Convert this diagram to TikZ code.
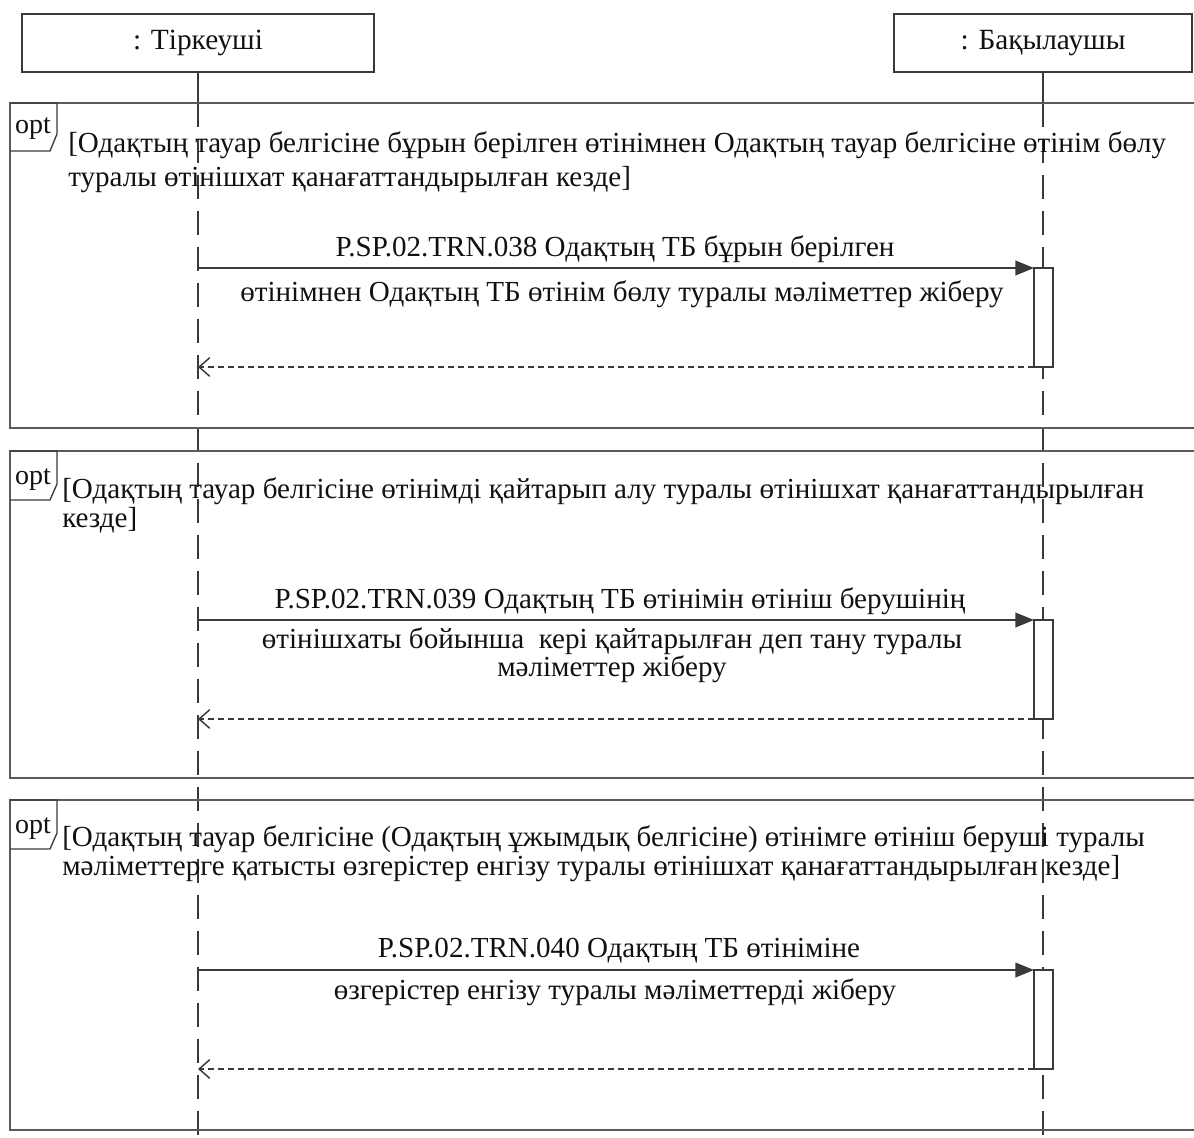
\documentclass[tikz,border=0pt]{standalone}
\usepackage{fontspec}
\setmainfont{Liberation Serif}
\usepackage{tikz}
\usetikzlibrary{arrows.meta, positioning}
\definecolor{cLine}{HTML}{3A3A3A}
\definecolor{cFrame}{HTML}{5A5A5A}
\definecolor{cText}{HTML}{111111}

\begin{document}
\begin{tikzpicture}[
  x=0.75pt, y=-0.75pt,
  head/.style={draw=cLine, line width=1.4pt, minimum height=43.5pt, inner sep=0pt, text=cText, font=\fontsize{22}{24}\selectfont},
  life/.style={cLine, line width=1.2pt},
  lifedash/.style={life, dash pattern=on 18pt off 9pt},
  frame/.style={draw=cFrame, line width=1.6pt},
  tab/.style={draw=cLine, line width=1pt},
  optlbl/.style={inner sep=0pt, text=cText, font=\fontsize{21}{23}\selectfont},
  guard/.style={anchor=north west, align=left, inner sep=0pt, text=cText, font=\fontsize{21.8}{21.8}\selectfont},
  lbl/.style={anchor=base, align=center, inner sep=0pt, text=cText, font=\fontsize{21.8}{21}\selectfont},
  act/.style={draw=cLine, fill=white, line width=1.2pt, minimum width=14.25pt, minimum height=74.25pt, inner sep=0pt, outer sep=0pt, anchor=north west},
  msg/.style={cLine, line width=1.3pt, -{Triangle[length=14pt, width=11pt]}},
  ret/.style={cLine, line width=1.1pt, dash pattern=on 4.5pt off 3pt, -{Straight Barb[length=8pt, width=14pt]}},
]
\useasboundingbox (0,0) rectangle (1194,1137);

\node[head, minimum width=264pt] (hdReg) at (198,43) {: Тіркеуші};
\node[head, minimum width=223.5pt] (hdCtl) at (1043,43) {: Бақылаушы};

\coordinate (topReg) at (198,103);
\coordinate (topCtl) at (1043,103);
\coordinate (endReg) at (198,1137);
\coordinate (endCtl) at (1043,1137);
\draw[life] (hdReg.south) -- (topReg);
\draw[life] (hdCtl.south) -- (topCtl);
\draw[lifedash] (topReg) -- (endReg);
\draw[lifedash] (topCtl) -- (endCtl);

\draw[frame] (1210,103) -- (10,103) -- (10,428) -- (1210,428);
\draw[frame] (1210,451) -- (10,451) -- (10,778) -- (1210,778);
\draw[frame] (1210,800) -- (10,800) -- (10,1130) -- (1210,1130);

\draw[tab] (10,103) -- (57,103) -- (57,134) -- (50,151) -- (10,151);
\draw[tab] (10,451) -- (57,451) -- (57,484) -- (50,500) -- (10,500);
\draw[tab] (10,800) -- (57,800) -- (57,833) -- (50,849) -- (10,849);
\node[optlbl] (opt1) at (33,129) {opt};
\node[optlbl] (opt2) at (33,480) {opt};
\node[optlbl] (opt3) at (33,829) {opt};

\node[guard, font=\fontsize{21.8}{26}\selectfont] (g1) at (68,131) {[Одақтың тауар белгісіне бұрын берілген өтінімнен Одақтың тауар белгісіне өтінім бөлу\\туралы өтінішхат қанағаттандырылған кезде]};
\node[guard] (g2) at (62,477) {[Одақтың тауар белгісіне өтінімді қайтарып алу туралы өтінішхат қанағаттандырылған\\кезде]};
\node[guard] (g3) at (62,825) {[Одақтың тауар белгісіне (Одақтың ұжымдық белгісіне) өтінімге өтініш беруші туралы\\мәліметтерге қатысты өзгерістер енгізу туралы өтінішхат қанағаттандырылған кезде]};

\node[act] (act1) at (1034,268) {};
\coordinate (s1) at (198,268);
\coordinate (r1) at (198,367);
\draw[msg] (s1) -- (act1.north west);
\draw[ret] (act1.south west) -- (r1);
\node[lbl] (m1a) at (615,257) {P.SP.02.TRN.038 Одақтың ТБ бұрын берілген};
\node[lbl] (m1b) at (622,301) {өтінімнен Одақтың ТБ өтінім бөлу туралы мәліметтер жіберу};

\node[act] (act2) at (1034,620) {};
\coordinate (s2) at (198,620);
\coordinate (r2) at (198,719);
\draw[msg] (s2) -- (act2.north west);
\draw[ret] (act2.south west) -- (r2);
\node[lbl] (m2a) at (620,608) {P.SP.02.TRN.039 Одақтың ТБ өтінімін өтініш берушінің};
\node[lbl] (m2b) at (612,676) {өтінішхаты бойынша\ \ кері қайтарылған деп тану туралы\\мәліметтер жіберу};

\node[act] (act3) at (1034,970) {};
\coordinate (s3) at (198,970);
\coordinate (r3) at (198,1069);
\draw[msg] (s3) -- (act3.north west);
\draw[ret] (act3.south west) -- (r3);
\node[lbl] (m3a) at (619,957) {P.SP.02.TRN.040 Одақтың ТБ өтініміне};
\node[lbl] (m3b) at (615,999) {өзгерістер енгізу туралы мәліметтерді жіберу};
\end{tikzpicture}
\end{document}
